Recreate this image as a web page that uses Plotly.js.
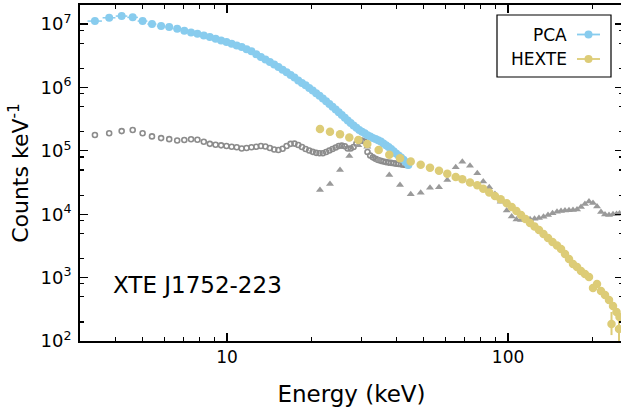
<!DOCTYPE html>
<html>
<head>
<meta charset="utf-8">
<script src="https://cdn.plot.ly/plotly-3.0.1.min.js"></script>
<style>
html,body{margin:0;padding:0;overflow:hidden;background:#fff;}
#chart{width:623px;height:409px;}
</style>
</head>
<body>
<div id="chart"></div>
<script>
// PCA source spectrum (keV, counts/keV)
const pcaEnergy = [3.39,3.81,4.22,4.62,5.01,5.41,5.83,6.23,6.65,7.05,7.45,7.85,8.27,8.69,9.11,9.53,9.96,10.39,10.83,11.28,11.74,12.22,
  12.71,13.20,13.70,14.21,14.72,15.24,15.77,16.30,16.84,17.38,17.93,18.48,19.04,19.61,20.18,20.76,21.34,21.93,22.53,23.13,
  23.74,24.36,24.98,25.61,26.25,26.89,27.54,28.20,28.87,29.54,30.22,30.91,31.61,32.32,33.04,33.77,34.51,35.26,36.02,36.79,
  37.57,38.36,39.16,39.97,40.79,41.62,42.46,43.31,44.17];
const pcaCounts = [1.115e7,1.257e7,1.337e7,1.276e7,1.115e7,1.0e7,9.30e6,8.97e6,8.43e6,7.84e6,7.39e6,7.03e6,6.63e6,6.24e6,5.86e6,5.53e6,5.20e6,4.89e6,4.61e6,4.34e6,3.99e6,3.71e6,
  3.35e6,3.02e6,2.75e6,2.52e6,2.30e6,2.10e6,1.90e6,1.73e6,1.57e6,1.43e6,1.29e6,1.18e6,1.08e6,9.82e5,8.94e5,8.11e5,7.43e5,6.70e5,6.05e5,5.49e5,
  4.97e5,4.48e5,4.05e5,3.67e5,3.33e5,3.01e5,2.74e5,2.52e5,2.32e5,2.14e5,2.00e5,1.89e5,1.77e5,1.68e5,1.60e5,1.54e5,1.47e5,1.40e5,1.30e5,1.22e5,
  1.15e5,1.07e5,9.86e4,9.10e4,8.43e4,7.84e4,7.26e4,6.59e4,5.97e4];
// PCA background (grey open circles), same channels
const pcaBackground = [1.78e5,1.89e5,2.05e5,2.13e5,1.89e5,1.69e5,1.59e5,1.53e5,1.46e5,1.48e5,1.52e5,1.50e5,1.39e5,1.29e5,1.25e5,1.22e5,1.19e5,1.16e5,1.14e5,1.09e5,1.11e5,1.14e5,
  1.16e5,1.19e5,1.17e5,1.11e5,1.05e5,1.03e5,1.08e5,1.19e5,1.29e5,1.30e5,1.24e5,1.15e5,1.07e5,1.01e5,9.64e4,9.30e4,9.17e4,9.17e4,9.57e4,1.01e5,
  1.07e5,1.13e5,1.19e5,1.21e5,1.18e5,1.09e5,1.09e5,1.15e5,1.30e5,1.43e5,1.46e5,1.40e5,9.57e4,8.43e4,7.89e4,7.48e4,7.16e4,6.95e4,6.78e4,6.65e4,
  6.53e4,6.47e4,6.37e4,6.28e4,6.19e4,6.12e4,6.06e4,5.97e4,5.91e4];
const pcaHalfWidth = 0.2;

// HEXTE source spectrum
const hexteEnergy = [21.42,23.25,25.24,27.24,29.33,31.56,34.64,37.79,41.26,45.05,48.88,52.75,56.78,60.78,65.12,68.74,73.20,77.71,
  81.6,85.7,89.8,94.1,98.9,103.0,107.1,111.2,115.3,119.7,124.2,128.8,133.7,138.7,143.9,149.3,154.3,159.4,164.7,170.2,
  175.9,181.7,187.7,194.0,200.5,207.2,214.1,221.2,228.6,233.3,236.2,243.1,248.1,249.1];
const hexteCounts = [2.21e5,2.00e5,1.83e5,1.63e5,1.48e5,1.28e5,1.03e5,8.68e4,7.62e4,6.78e4,6.04e4,5.41e4,4.84e4,4.34e4,3.86e4,3.55e4,3.18e4,2.86e4,
  2.52e4,2.21e4,1.94e4,1.72e4,1.49e4,1.30e4,1.12e4,9.71e3,8.40e3,7.26e3,6.40e3,5.63e3,4.87e3,4.21e3,3.65e3,3.21e3,2.83e3,2.36e3,1.97e3,1.64e3,
  1.47e3,1.27e3,1.14e3,1.02e3,685,793,615,532,443,185,357,287,155,239];
const hexteErrUp = [0,0,0,0,0,0,0,0,0,0,0,0,0,0,0,0,0,0,
  0,0,0,0,0,0,0,0,0,0,0,0,0,0,0,0,0,0,0,0,
  0,0,0,0,60,50,45,40,35,102,35,30,93,30];
const hexteErrDown = [0,0,0,0,0,0,0,0,0,0,0,0,0,0,0,0,0,0,
  0,0,0,0,0,0,0,0,0,0,0,0,0,0,0,0,0,0,0,0,
  0,0,0,0,60,50,45,40,35,61,35,30,55,30];

// HEXTE background (grey triangles)
const hexteBkgEnergy = [21.42,23.25,25.24,27.24,29.33,31.56,34.64,37.79,41.26,45.05,48.88,52.75,56.78,60.78,65.12,68.74,73.20,77.71,
  81.6,85.7,89.8,94.1,98.9,103.0,107.1,111.2,115.3,119.7,124.2,128.8,133.7,138.7,143.9,149.3,154.3,159.4,164.7,170.2,
  175.9,181.7,187.7,194.0,200.5,207.2,214.1,221.2,228.6,236.2,243.1,249.1];
const hexteBkgCounts = [2.41e4,2.99e4,4.98e4,8.28e4,1.23e5,1.16e5,7.16e4,4.15e4,2.89e4,2.06e4,2.18e4,2.62e4,2.66e4,3.46e4,5.50e4,6.73e4,5.82e4,4.42e4,
  3.28e4,2.66e4,2.08e4,1.57e4,1.14e4,9.20e3,8.25e3,8.10e3,8.10e3,8.31e3,8.49e3,8.71e3,9.13e3,9.71e3,1.04e4,1.09e4,1.12e4,1.14e4,1.16e4,1.17e4,
  1.19e4,1.30e4,1.45e4,1.59e4,1.50e4,1.32e4,1.08e4,9.89e3,9.71e3,9.96e3,1.01e4,1.03e4];

const xTickVals = [10, 100];
const xTickText = ['10', '100'];
const yTickVals = [1e2, 1e3, 1e4, 1e5, 1e6, 1e7];
const yTickText = ['10<sup>2</sup>','10<sup>3</sup>','10<sup>4</sup>','10<sup>5</sup>','10<sup>6</sup>','10<sup>7</sup>'];
const xMinor = [4,5,6,7,8,9,20,30,40,50,60,70,80,90,200];
const yMinorMantissa = [2,5,8];
const yMinorDecades = [2,3,4,5,6];
const yMinor = [];
yMinorDecades.forEach(function(p){ yMinorMantissa.forEach(function(m){ yMinor.push(m*Math.pow(10,p)); }); });

const legendLabels = ['PCA', 'HEXTE'];

const BLUE = '#88CCEE', SAND = '#DDCC77', GREY = '#8c8c8c', GREY2 = '#9a9a9a';
const FONT = 'DejaVu Sans, Verdana, sans-serif';

const traces = [
  { x: pcaEnergy, y: pcaBackground, type: 'scatter', mode: 'markers', name: 'PCA bkg',
    marker: { symbol: 'circle-open', size: 5, color: GREY, line: { width: 1.6, color: GREY } } },
  { x: hexteBkgEnergy, y: hexteBkgCounts, type: 'scatter', mode: 'markers', name: 'HEXTE bkg',
    marker: { symbol: 'triangle-up', size: 7, color: GREY2 } },
  { x: pcaEnergy, y: pcaCounts, type: 'scatter', mode: 'markers', name: legendLabels[0],
    marker: { symbol: 'circle', size: 8, color: BLUE },
    error_x: { type: 'constant', value: pcaHalfWidth, color: BLUE, thickness: 1.5, width: 0 } },
  { x: hexteEnergy, y: hexteCounts, type: 'scatter', mode: 'markers', name: legendLabels[1],
    marker: { symbol: 'circle', size: 8.5, color: SAND },
    error_y: { type: 'data', symmetric: false, array: hexteErrUp, arrayminus: hexteErrDown, color: SAND, thickness: 2, width: 0 } }
];

// legend drawn as shapes/annotations (symbol to the right of the text)
const PW = 543, PH = 336;
function px(p){ return (p-80)/PW; }
function py(p){ return (341-p)/PH; }
const shapes = [
  { type: 'rect', xref: 'paper', yref: 'paper', x0: px(497), x1: px(611), y0: py(77), y1: py(15), line: { color: '#000', width: 1.2 }, fillcolor: 'rgba(255,255,255,1)', layer: 'above' },
  { type: 'line', xref: 'paper', yref: 'paper', x0: px(577), x1: px(600), y0: py(34.5), y1: py(34.5), line: { color: BLUE, width: 1.8 }, layer: 'above' },
  { type: 'circle', xref: 'paper', yref: 'paper', x0: px(584.5), x1: px(592.5), y0: py(38.5), y1: py(30.5), fillcolor: BLUE, line: { color: BLUE, width: 0 }, layer: 'above' },
  { type: 'line', xref: 'paper', yref: 'paper', x0: px(577), x1: px(600), y0: py(59), y1: py(59), line: { color: SAND, width: 1.8 }, layer: 'above' },
  { type: 'circle', xref: 'paper', yref: 'paper', x0: px(584.5), x1: px(592.5), y0: py(63), y1: py(55), fillcolor: SAND, line: { color: SAND, width: 0 }, layer: 'above' }
];
const annotations = [
  { xref: 'paper', yref: 'paper', x: px(569), y: py(34.5), xanchor: 'right', yanchor: 'middle', text: legendLabels[0], showarrow: false, font: { family: FONT, size: 17, color: '#000' } },
  { xref: 'paper', yref: 'paper', x: px(569), y: py(59), xanchor: 'right', yanchor: 'middle', text: legendLabels[1], showarrow: false, font: { family: FONT, size: 17, color: '#000' } },
  { xref: 'paper', yref: 'paper', x: px(111), y: py(285), xanchor: 'left', yanchor: 'middle', text: 'XTE J1752-223', showarrow: false, font: { family: FONT, size: 23, color: '#000' } }
];

const axisCommon = {
  type: 'log', showline: true, linecolor: '#000', linewidth: 2, mirror: 'allticks',
  ticks: 'inside', ticklen: 8, tickwidth: 1.2, tickcolor: '#000', showgrid: false, zeroline: false
};

const layout = {
  width: 623, height: 409,
  margin: { l: 80, r: 0, t: 5, b: 68 },
  paper_bgcolor: '#fff', plot_bgcolor: '#fff',
  showlegend: false,
  font: { family: FONT, color: '#000' },
  xaxis: Object.assign({}, axisCommon, {
    range: [Math.log10(3), 2.4088],
    tickmode: 'array', tickvals: xTickVals, ticktext: xTickText,
    tickfont: { family: FONT, size: 17, color: '#000' },
    minor: { tickmode: 'array', tickvals: xMinor, ticks: 'inside', ticklen: 4, tickwidth: 1.2, tickcolor: '#000', showgrid: false },
    title: { text: 'Energy (keV)', font: { family: FONT, size: 23, color: '#000' }, standoff: 19 }
  }),
  yaxis: Object.assign({}, axisCommon, {
    range: [2, 7.301],
    tickmode: 'array', tickvals: yTickVals, ticktext: yTickText,
    tickfont: { family: FONT, size: 18, color: '#000' },
    ticklabelstandoff: 3,
    minor: { tickmode: 'array', tickvals: yMinor, ticks: 'inside', ticklen: 4, tickwidth: 1.2, tickcolor: '#000', showgrid: false },
    title: { text: 'Counts keV<sup>-1</sup>', font: { family: FONT, size: 22, color: '#000' }, standoff: 6 }
  }),
  shapes: shapes,
  annotations: annotations
};

Plotly.newPlot('chart', traces, layout, { staticPlot: true, displayModeBar: false });
</script>
</body>
</html>
